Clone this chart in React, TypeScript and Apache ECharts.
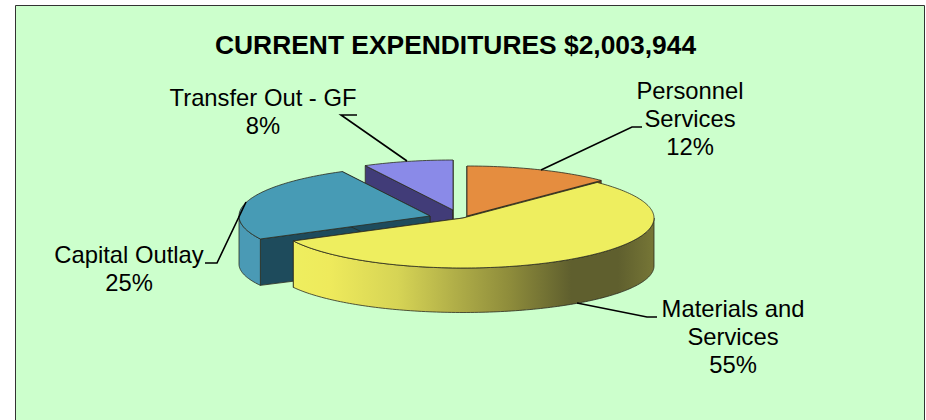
import React, { useEffect, useRef } from "react";
import * as echarts from "echarts";

const titleText = "CURRENT EXPENDITURES $2,003,944";
const categories = ["Personnel\nServices", "Materials and\nServices", "Capital Outlay", "Transfer Out - GF"];
const shares = [12.4, 55, 25, 7.6];
const percentLabels = ["12%", "55%", "25%", "8%"];

const topColors = ["#e58d3f", "#eeee5f", "#479bb5", "#8a8ae8"];
const cutColors = ["#7a3f14", "#6d6d30", "#1e4b5c", "#413c78"];
const rimColors = ["#b06a2c", "#eeee5f", "#4a9ab5", "#6a6ac0"];

// slice placement: exploded centres of the tilted pie
const centres = [[467, 216], [463, 218], [430, 216], [453, 210]];
const drawOrder = [3, 0, 2, 1];
const RX = 191, RY = 50, DEPTH_C = 48, DEPTH_RY = 46.5;

const labelBoxes = [[690, 118], [733, 336], [129, 268], [263, 111]];
const leaders = [
  [[642, 127], [632, 127], [541, 170]],
  [[657, 317], [647, 317], [577, 303]],
  [[205, 263], [217, 263], [246, 202]],
  [[357, 115], [341, 115], [407, 161]],
];

const total = shares.reduce((a, b) => a + b, 0);
const startsAt = shares.map((_, i) => shares.slice(0, i).reduce((a, b) => a + b, 0) / total * Math.PI * 2);
const endsAt = shares.map((v, i) => startsAt[i] + v / total * Math.PI * 2);

function top(c: number[], t: number) {
  return [c[0] + Math.sin(t) * RX, c[1] - Math.cos(t) * RY];
}
function low(c: number[], t: number) {
  return [c[0] + Math.sin(t) * RX, c[1] + DEPTH_C - Math.cos(t) * DEPTH_RY];
}
function sweep(a: number, b: number) {
  const n = Math.max(2, Math.ceil(Math.abs(b - a) / 0.02));
  const out: number[] = [];
  for (let k = 0; k <= n; k++) out.push(a + (b - a) * k / n);
  return out;
}

const edge = { stroke: "#2b2b20", lineWidth: 0.8 };

function renderSlice(params: any, api: any) {
  const i = params.dataIndex;
  const c = centres[i];
  const a = startsAt[i], b = endsAt[i];
  const z = drawOrder.indexOf(i) * 10 + 1;
  const kids: any[] = [];
  const apexLow = [c[0], c[1] + DEPTH_C];

  // cut faces
  for (const t of [a, b]) {
    const p = top(c, t), q = low(c, t);
    kids.push({
      type: "polygon", z2: z,
      shape: { points: [c, p, q, apexLow] },
      style: { fill: cutColors[i], ...edge },
    });
  }
  // outer rim, front half only
  const ra = Math.max(a, Math.PI / 2), rb = Math.min(b, Math.PI * 1.5);
  if (rb > ra) {
    const ts = sweep(ra, rb);
    const pts = ts.map((t) => top(c, t)).concat(ts.slice().reverse().map((t) => low(c, t)));
    const fill = i === 1
      ? new echarts.graphic.LinearGradient(0, 0, 1, 0, [
          { offset: 0, color: "#eeee5f" },
          { offset: 0.1, color: "#eeea5c" },
          { offset: 0.29, color: "#d6d455" },
          { offset: 0.45, color: "#b0ae48" },
          { offset: 0.6, color: "#8e8c3b" },
          { offset: 0.77, color: "#5f5f2e" },
          { offset: 0.9, color: "#5f5f2e" },
          { offset: 1, color: "#767636" },
        ])
      : rimColors[i];
    kids.push({ type: "polygon", z2: z + 1, shape: { points: pts }, style: { fill, ...edge } });
  }
  // top face
  const topPts = [c as number[]].concat(sweep(a, b).map((t) => top(c, t)));
  kids.push({
    type: "polygon", z2: z + 2,
    shape: { points: topPts },
    style: { fill: topColors[i], ...edge },
  });
  // leader + label
  kids.push({
    type: "polyline", z2: 100,
    shape: { points: leaders[i] },
    style: { fill: "none", stroke: "#000", lineWidth: 1.6 },
  });
  kids.push({
    type: "text", z2: 101,
    x: labelBoxes[i][0], y: labelBoxes[i][1],
    style: {
      text: api.value(1) ? `${categories[i]}\n${percentLabels[i]}` : "",
      fill: "#000",
      font: '23.8px "Liberation Sans"',
      lineHeight: 28,
      align: "center",
      verticalAlign: "middle",
    },
  });
  return { type: "group", children: kids };
}

export default function App() {
  const ref = useRef<HTMLDivElement>(null);
  useEffect(() => {
    const chart = echarts.init(ref.current!, undefined, { renderer: "svg" });
    chart.setOption({
      animation: false,
      backgroundColor: "#ffffff",
      title: {
        text: titleText,
        left: 215,
        top: 32,
        textStyle: { fontFamily: "Liberation Sans", fontSize: 26.4, fontWeight: "bold", color: "#000" },
        padding: 0,
      },
      graphic: [{
        type: "rect", z: -1,
        shape: { x: 15.5, y: 5.5, width: 909, height: 500 },
        style: { fill: "#ccffcc", stroke: "#333", lineWidth: 1 },
      }],
      series: [{
        type: "custom",
        coordinateSystem: "none",
        renderItem: renderSlice,
        silent: true,
        data: shares.map((v, i) => ({ name: categories[i].replace("\n", " "), value: [v, 1] })),
      }],
    });
    return () => chart.dispose();
  }, []);
  return <div ref={ref} style={{ position: "absolute", left: 0, top: 0, width: 926, height: 420 }} />;
}
